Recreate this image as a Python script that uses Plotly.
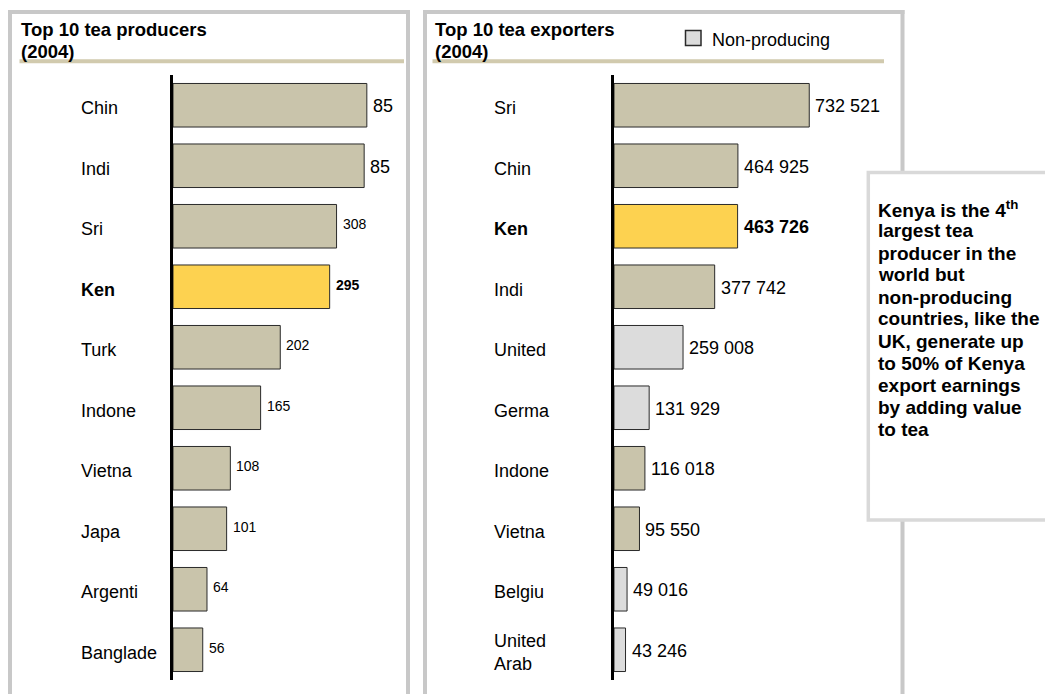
import plotly.graph_objects as go

# ---------------- data ----------------
prod_countries = ["Chin", "Indi", "Sri", "Ken", "Turk", "Indone", "Vietna", "Japa", "Argenti", "Banglade"]
prod_values = [365, 360, 308, 295, 202, 165, 108, 101, 64, 56]
prod_labels = ["85", "85", "308", "295", "202", "165", "108", "101", "64", "56"]

exp_countries = ["Sri", "Chin", "Ken", "Indi", "United", "Germa", "Indone", "Vietna", "Belgiu", "United<br>Arab"]
exp_values = [732521, 464925, 463726, 377742, 259008, 131929, 116018, 95550, 49016, 43246]
exp_nonproducing = [False, False, False, False, True, True, False, False, True, True]

highlight = "Ken"

callout_lines = [
    "Kenya is the 4<sup>th</sup>",
    "largest tea",
    "producer in the",
    "world but",
    "non-producing",
    "countries, like the",
    "UK, generate up",
    "to 50% of Kenya",
    "export earnings",
    "by adding value",
    "to tea",
]

# ---------------- style ----------------
W, H = 1045, 694
FONT = "Arial, Liberation Sans, sans-serif"
TAN = "#c9c4ab"
YELLOW = "#fdd250"
LIGHT = "#dcdcdc"
EDGE = "#2a2a2a"
PANEL = "#c8c8c8"
RULE = "#d1caae"


def px(x):
    return x / W


def py(y):
    return 1 - y / H


def fmt_space(v):
    return f"{v:,}".replace(",", " ")


prod_colors = [YELLOW if c == highlight else TAN for c in prod_countries]
exp_colors = [YELLOW if c == highlight else (LIGHT if n else TAN)
              for c, n in zip(exp_countries, exp_nonproducing)]

fig = go.Figure()
fig.add_trace(go.Bar(
    x=prod_values, y=prod_countries, orientation="h", width=0.72,
    marker=dict(color=prod_colors, line=dict(color=EDGE, width=1)),
    xaxis="x", yaxis="y", hoverinfo="skip", showlegend=False,
))
fig.add_trace(go.Bar(
    x=exp_values, y=exp_countries, orientation="h", width=0.72,
    marker=dict(color=exp_colors, line=dict(color=EDGE, width=1)),
    xaxis="x2", yaxis="y2", hoverinfo="skip", showlegend=False,
))

ydom = [py(680), py(75)]
common_y = dict(type="category", showline=True, linecolor="black", linewidth=3,
                showticklabels=False, ticks="", showgrid=False, zeroline=False,
                range=[9.5, -0.5], domain=ydom)

fig.update_layout(
    width=W, height=H,
    margin=dict(l=0, r=0, t=0, b=0),
    paper_bgcolor="white", plot_bgcolor="white",
    font=dict(family=FONT, color="black"),
    xaxis=dict(domain=[px(173), px(404)], range=[0, 435], visible=False, anchor="y"),
    yaxis=dict(categoryarray=prod_countries, anchor="x", **common_y),
    xaxis2=dict(domain=[px(614), px(900)], range=[0, 1073000], visible=False, anchor="y2"),
    yaxis2=dict(categoryarray=exp_countries, anchor="x2", **common_y),
    bargap=0.28,
)

shapes = []
# panel frames
for x0, x1 in [(10, 408), (425, 902.5)]:
    shapes.append(dict(type="line", xref="paper", yref="paper", x0=px(x0), x1=px(x0),
                       y0=py(10), y1=py(694), line=dict(color=PANEL, width=4)))
    shapes.append(dict(type="line", xref="paper", yref="paper", x0=px(x1), x1=px(x1),
                       y0=py(10), y1=py(694), line=dict(color=PANEL, width=4)))
    shapes.append(dict(type="line", xref="paper", yref="paper", x0=px(x0 - 2), x1=px(x1 + 2),
                       y0=py(12), y1=py(12), line=dict(color=PANEL, width=4)))
# tan rules under titles
shapes.append(dict(type="line", xref="paper", yref="paper", x0=px(19.5), x1=px(404),
                   y0=py(61.3), y1=py(61.3), line=dict(color=RULE, width=4)))
shapes.append(dict(type="line", xref="paper", yref="paper", x0=px(432.5), x1=px(884),
                   y0=py(61.3), y1=py(61.3), line=dict(color=RULE, width=4)))
# legend swatch
shapes.append(dict(type="rect", xref="paper", yref="paper", x0=px(685.5), x1=px(701),
                   y0=py(45.5), y1=py(30.5), fillcolor=LIGHT, line=dict(color=EDGE, width=1.5)))
# callout box
shapes.append(dict(type="rect", xref="paper", yref="paper", x0=px(868.3), x1=px(1050),
                   y0=py(520), y1=py(172.5), fillcolor="white", line=dict(color="#d9d9d9", width=3.5),
                   layer="above"))

ann = []
# titles
for x, lines in [(19, ["Top 10 tea producers", "(2004)"]), (432.5, ["Top 10 tea exporters", "(2004)"])]:
    ann.append(dict(text="<b>" + lines[0] + "</b>", x=px(x), y=py(29.5), xref="paper", yref="paper",
                    xanchor="left", yanchor="middle", showarrow=False, font=dict(size=18.5)))
    ann.append(dict(text="<b>" + lines[1] + "</b>", x=px(x), y=py(52), xref="paper", yref="paper",
                    xanchor="left", yanchor="middle", showarrow=False, font=dict(size=18.5)))
# legend text
ann.append(dict(text="Non-producing", x=px(710), y=py(40), xref="paper", yref="paper",
                xanchor="left", yanchor="middle", showarrow=False, font=dict(size=18)))

# category labels and value labels
for (cats, vals, labels, xr, yr, lx) in [
    (prod_countries, prod_values, prod_labels, "x", "y", 79),
    (exp_countries, exp_values, [fmt_space(v) for v in exp_values], "x2", "y2", 492),
]:
    for c, v, lab in zip(cats, vals, labels):
        bold = c == highlight
        ann.append(dict(text=("<b>%s</b>" % c) if bold else c, x=px(lx), xref="paper",
                        y=c, yref=yr, xanchor="left", yanchor="middle", showarrow=False,
                        yshift=-3, font=dict(size=18), align="left"))
        size = 18 if (xr == "x2" or len(lab) <= 2 and v > 300) else 14
        ann.append(dict(text=("<b>%s</b>" % lab) if bold else lab, x=v, xref=xr,
                        y=c, yref=yr, xanchor="left", yanchor="middle", showarrow=False,
                        xshift=4, yshift=(2 if size == 14 else -1), font=dict(size=size)))

# callout text
for i, line in enumerate(callout_lines):
    ann.append(dict(text="<b>" + line + "</b>", x=px(875.5), y=py(209 + 22 * i), xref="paper",
                    yref="paper", xanchor="left", yanchor="middle", showarrow=False,
                    font=dict(size=19)))

fig.update_layout(shapes=shapes, annotations=ann)
fig.write_html(
    "out.html",
    config={"displayModeBar": False},
    post_script="document.body.style.margin='0px';document.body.style.overflow='hidden';",
)
